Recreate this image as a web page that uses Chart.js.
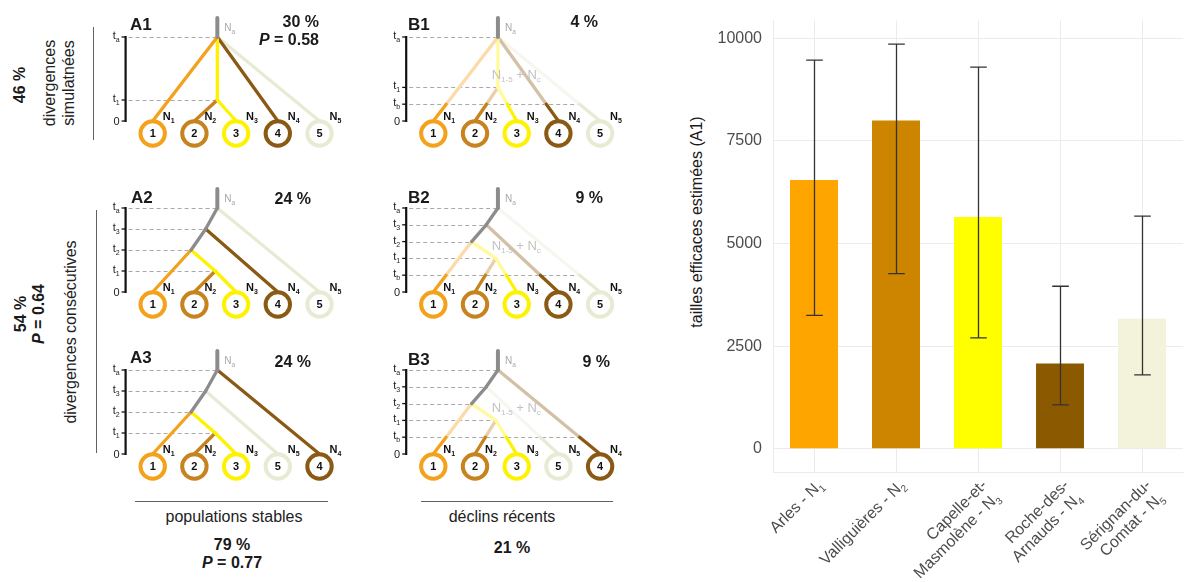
<!DOCTYPE html>
<html lang="fr">
<head>
<meta charset="utf-8">
<title>Scénarios de divergence et tailles efficaces</title>
<script src="https://cdn.jsdelivr.net/npm/chart.js@4.4.1/dist/chart.umd.min.js"></script>
<style>
  html, body { margin: 0; padding: 0; background: #fff; }
  #fig { position: relative; width: 1187px; height: 582px; overflow: hidden;
         font-family: "Liberation Sans", Arial, Helvetica, sans-serif; color: #1a1a1a; }
  #fig canvas { position: absolute; }
  .txt { position: absolute; white-space: nowrap; line-height: 1; text-align: center; }
  .rule { position: absolute; background: #616161; }
</style>
</head>
<body>
<div id="fig"></div>
<script>
// ---------- bar chart data: effective sizes estimated under scenario A1 ----------
const siteLines = [['Arles'], ['Valliguières'], ['Capelle-et-', 'Masmolène'], ['Roche-des-', 'Arnauds'], ['Sérignan-du-', 'Comtat']];
const popIndex = ['1', '2', '3', '4', '5'];
const neEstimate = [6550, 8000, 5650, 2080, 3170];
const neLower = [3250, 4270, 2700, 1070, 1800];
const neUpper = [9470, 9860, 9300, 3960, 5670];
const neTicks = [0, 2500, 5000, 7500, 10000];
const barColors = ['#FFA500', '#CD8500', '#FFFF00', '#8B5A00', '#F3F3DC'];

// ---------- scenario trees ----------
// colour per population; index 0 is the ancestral lineage
const popColors = ['#8C8C8C', '#F4A11C', '#C6831E', '#FFF200', '#8A5A14', '#E8EBD4'];

// event times (relative units) for the two demographic settings
const stableTimes = { a: 4, 3: 3, 2: 2, 1: 1, 0: 0 };
const declineTimes = { a: 4, 3: 3.2, 2: 2.4, 1: 1.6, b: 0.8, 0: 0 };

// internal nodes: [time key, horizontal position in leaf slots]
const simultaneousNodes = { R: ['a', 2.55], n1: ['1', 2.55] };
const simultaneousLeaves = [1, 2, 3, 4, 5];
const simultaneousBranches = [['R', 'L1', 1], ['R', 'n1', 3], ['n1', 'L3', 3], ['n1', 'L2', 2], ['R', 'L4', 4], ['R', 'L5', 5]];

const consecutiveNodes = { R: ['a', 2.55], n3: ['3', 2.27], n2: ['2', 1.92], n1: ['1', 2.5] };
const consecutiveLeaves = [1, 2, 3, 4, 5];
const consecutiveBranches = [['R', 'n3', 0], ['n3', 'n2', 0], ['R', 'L5', 5], ['n3', 'L4', 4], ['n2', 'L1', 1], ['n2', 'n1', 3], ['n1', 'L3', 3], ['n1', 'L2', 2]];

const lateFourLeaves = [1, 2, 3, 5, 4];
const lateFourBranches = [['R', 'n3', 0], ['n3', 'n2', 0], ['R', 'L4', 4], ['n3', 'L5', 5], ['n2', 'L1', 1], ['n2', 'n1', 3], ['n1', 'L3', 3], ['n1', 'L2', 2]];

const panelIds = ['A1', 'B1', 'A2', 'B2', 'A3', 'B3'];
const panelShares = ['30 %', '4 %', '24 %', '9 %', '24 %', '9 %'];
const stableSummary = ['79 %', '0.77'];
const declineSummary = ['21 %'];
const simultaneousSummary = ['46 %', '0.58'];
const consecutiveSummary = ['54 %', '0.64'];

// ---------- layout ----------
const FONT = '"Liberation Sans", Arial, Helvetica, sans-serif';
const SLOT = 41.7;          // px between leaf slots
const TU = 21;              // px per time unit
const colSlot1X = [152.7, 433.3];
const colLeft = [100, 380];
const rowTop = [5, 176, 338];
const ZERO_LOCAL = 116;     // y of time 0 inside a panel canvas
const PW = 255, PH = 150;
const axisSlot = 0.35;
const stubLen = 0.9;
const ringDrop = 12.5;
const poolLabelAt = [2.4, 2.0];

const fig = document.getElementById('fig');

function addCanvas(left, top, w, h) {
  const c = document.createElement('canvas');
  c.width = w; c.height = h;
  c.style.left = left + 'px'; c.style.top = top + 'px';
  c.style.width = w + 'px'; c.style.height = h + 'px';
  fig.appendChild(c);
  return c;
}

function addText(html, x, y, o = {}) {
  const d = document.createElement('div');
  d.className = 'txt';
  d.innerHTML = html;
  d.style.left = x + 'px';
  d.style.top = y + 'px';
  d.style.fontSize = (o.size || 16) + 'px';
  if (o.bold) d.style.fontWeight = 'bold';
  if (o.color) d.style.color = o.color;
  if (o.lh) d.style.lineHeight = o.lh + 'px';
  const tx = o.align === 'left' ? '0' : o.align === 'right' ? '-100%' : '-50%';
  d.style.transform = o.rotate ? 'translate(-50%,-50%) rotate(-90deg)' : `translate(${tx},-50%)`;
  fig.appendChild(d);
}

function addRule(x, y, w, h) {
  const d = document.createElement('div');
  d.className = 'rule';
  Object.assign(d.style, { left: x + 'px', top: y + 'px', width: w + 'px', height: h + 'px' });
  fig.appendChild(d);
}

// text made of normal and subscript runs; y is the main baseline
function drawRuns(ctx, x, y, runs, size, o) {
  const weight = o.bold ? 'bold ' : '';
  const subSize = o.subSize || Math.round(size * 0.62);
  const subDrop = o.subDrop != null ? o.subDrop : size * 0.28;
  const widths = runs.map(([t, s]) => { ctx.font = `${weight}${s ? subSize : size}px ${FONT}`; return ctx.measureText(t).width; });
  const total = widths.reduce((a, b) => a + b, 0);
  let cx = o.align === 'right' ? x - total : o.align === 'center' ? x - total / 2 : x;
  ctx.fillStyle = o.color;
  ctx.textAlign = 'left';
  ctx.textBaseline = 'alphabetic';
  runs.forEach(([t, s], i) => {
    ctx.font = `${weight}${s ? subSize : size}px ${FONT}`;
    ctx.fillText(t, cx, s ? y + subDrop : y);
    cx += widths[i];
  });
}

function lighten(hex, a) {
  const n = parseInt(hex.slice(1), 16);
  const ch = [(n >> 16) & 255, (n >> 8) & 255, n & 255].map(v => Math.round(255 - a * (255 - v)));
  return 'rgb(' + ch.join(',') + ')';
}

function seg(a, b, color, w, order) {
  return { type: 'line', data: [{ x: a.x, y: a.y }, { x: b.x, y: b.y }], borderColor: color,
           borderWidth: w, pointRadius: 0, pointHoverRadius: 0, borderCapStyle: 'round', order };
}

const rowTrees = [
  [simultaneousNodes, simultaneousLeaves, simultaneousBranches],
  [consecutiveNodes, consecutiveLeaves, consecutiveBranches],
  [consecutiveNodes, lateFourLeaves, lateFourBranches]
];

function makePanel(k) {
  const col = k % 2, row = Math.floor(k / 2);
  const [nodes, leaves, branches] = rowTrees[row];
  const decline = col === 1;
  const times = decline ? declineTimes : stableTimes;
  const where = id => id[0] === 'L'
    ? { x: leaves.indexOf(+id.slice(1)) + 1, y: 0 }
    : { x: nodes[id][1], y: times[nodes[id][0]] };
  const levels = [...new Set(Object.values(nodes).map(n => n[0]).concat(decline ? ['b'] : []).concat(['0']))]
    .sort((p, q) => times[q] - times[p]);
  const root = where('R');
  const ringY = -ringDrop / TU;

  const datasets = [];
  datasets.push({
    type: 'scatter', data: leaves.map((p, i) => ({ x: i + 1, y: ringY })),
    pointRadius: 12.2, pointHoverRadius: 12.2, pointBackgroundColor: '#fff',
    pointBorderColor: leaves.map(p => popColors[p]), pointBorderWidth: 4, order: 0
  });
  datasets.push(seg(root, { x: root.x, y: root.y + stubLen }, popColors[0], 4, 1));
  const segments = [];
  branches.forEach(([f, t, c]) => {
    const a = where(f), b = where(t);
    segments.push([a, b]);
    const colr = popColors[c];
    if (decline && c !== 0) {
      const tb = times.b;
      if (b.y >= tb) {
        datasets.push(seg(a, b, lighten(colr, 0.38), 3.3, 2));
      } else {
        const m = { x: a.x + (b.x - a.x) * (a.y - tb) / (a.y - b.y), y: tb };
        datasets.push(seg(a, m, lighten(colr, 0.38), 3.3, 2));
        datasets.push(seg(m, b, colr, 3.3, 1));
      }
    } else {
      datasets.push(seg(a, b, colr, 3.3, 1));
    }
  });

  // guide lines stop at the node of their level, or at the outermost lineage
  const guideEnd = l => {
    const xs = Object.values(nodes).filter(n => n[0] === l).map(n => n[1]);
    if (xs.length) return Math.max(...xs);
    const t = times[l];
    return Math.max(...segments.filter(([a, b]) => a.y > t && b.y < t)
      .map(([a, b]) => a.x + (b.x - a.x) * (a.y - t) / (a.y - b.y)));
  };

  const xMin = 1 - (colSlot1X[col] - colLeft[col]) / SLOT;
  const yMax = ZERO_LOCAL / TU;
  const canvas = addCanvas(colLeft[col], rowTop[row], PW, PH);

  new Chart(canvas, {
    type: 'scatter',
    data: { datasets },
    options: {
      responsive: false, animation: false, devicePixelRatio: 1, events: [],
      layout: { padding: 0, autoPadding: false },
      plugins: { legend: { display: false }, tooltip: { enabled: false } },
      scales: {
        x: { type: 'linear', display: false, bounds: 'data', min: xMin, max: xMin + PW / SLOT },
        y: { type: 'linear', display: false, bounds: 'data', min: yMax - PH / TU, max: yMax }
      }
    },
    plugins: [{
      id: 'treeFrame',
      beforeDatasetsDraw(chart) {
        const { ctx, scales: { x, y } } = chart;
        const ax = x.getPixelForValue(axisSlot);
        ctx.save();
        ctx.strokeStyle = '#a9a9a9';
        ctx.lineWidth = 1.1;
        ctx.setLineDash([4, 3]);
        levels.forEach(l => {
          if (l === '0') return;
          const yy = Math.round(y.getPixelForValue(times[l])) + 0.5;
          ctx.beginPath();
          ctx.moveTo(ax + 3, yy);
          ctx.lineTo(x.getPixelForValue(guideEnd(l)), yy);
          ctx.stroke();
        });
        ctx.setLineDash([]);
        ctx.strokeStyle = '#111';
        ctx.lineWidth = 2.2;
        ctx.beginPath();
        ctx.moveTo(ax, y.getPixelForValue(0) + 1);
        ctx.lineTo(ax, y.getPixelForValue(times.a) - 1);
        ctx.stroke();
        ctx.lineWidth = 1.3;
        levels.forEach(l => {
          const yy = y.getPixelForValue(times[l]);
          ctx.beginPath();
          ctx.moveTo(ax - 4, yy);
          ctx.lineTo(ax, yy);
          ctx.stroke();
          if (l === '0') drawRuns(ctx, ax - 6, yy + 4, [['0', false]], 11, { align: 'right', color: '#222' });
          else drawRuns(ctx, ax - 6, yy + 2, [['t', false], [l, true]], 11, { align: 'right', color: '#222', subSize: 7, subDrop: 3 });
        });
        ctx.restore();
      },
      afterDatasetsDraw(chart) {
        const { ctx, scales: { x, y } } = chart;
        ctx.save();
        leaves.forEach((p, i) => {
          const cx = x.getPixelForValue(i + 1), cy = y.getPixelForValue(ringY);
          ctx.font = `bold 11px ${FONT}`;
          ctx.textAlign = 'center';
          ctx.textBaseline = 'middle';
          ctx.fillStyle = '#111';
          ctx.fillText(String(p), cx, cy + 0.5);
          drawRuns(ctx, cx + 10, y.getPixelForValue(0) - 1.5, [['N', false], [String(p), true]], 11,
                   { bold: true, color: '#111', subSize: 7, subDrop: 3 });
        });
        drawRuns(ctx, x.getPixelForValue(root.x) + 7, y.getPixelForValue(times.a) - 6, [['N', false], ['a', true]], 10,
                 { color: '#a8a8a8', subSize: 6.5, subDrop: 2.5 });
        if (decline) {
          drawRuns(ctx, x.getPixelForValue(poolLabelAt[0]), y.getPixelForValue(poolLabelAt[1]),
                   [['N', false], ['1-5', true], [' + N', false], ['c', true]], 13,
                   { color: '#c2c2c2', subSize: 8, subDrop: 3 });
        }
        ctx.restore();
      }
    }]
  });
}

panelIds.forEach((_, k) => makePanel(k));

// ---------- panel captions ----------
const panelLabelPos = [[130, 24], [408, 24], [131, 197], [408, 197], [130, 357], [408, 359]];
const panelSharePos = [[319, 22], [598, 22], [311, 199], [603, 198], [311, 362], [610, 362]];
panelIds.forEach((id, k) => {
  addText(id, panelLabelPos[k][0], panelLabelPos[k][1], { size: 17, bold: true, align: 'left' });
  addText(panelShares[k], panelSharePos[k][0], panelSharePos[k][1], { size: 16, bold: true, align: 'right' });
});
addText('<i>P</i> = ' + simultaneousSummary[1], 319, 40, { size: 16, bold: true, align: 'right' });

// side groupings
addText(simultaneousSummary[0], 20, 85, { size: 16, bold: true, rotate: true });
addText('divergences<br>simulatnées', 59, 83, { size: 16, lh: 19, rotate: true, color: '#222' });
addRule(93, 27, 1.2, 113);
addText(consecutiveSummary[0] + '<br><i>P</i> = ' + consecutiveSummary[1], 30, 314, { size: 16, bold: true, lh: 18, rotate: true });
addText('divergences consécutives', 71, 332, { size: 16, rotate: true, color: '#222' });
addRule(96, 210, 1.2, 243);

// bottom groupings
addRule(135, 501, 193, 1.2);
addText('populations stables', 234, 517, { size: 16, color: '#222' });
addText(stableSummary[0], 232, 545, { size: 16, bold: true });
addText('<i>P</i> = ' + stableSummary[1], 232, 563, { size: 16, bold: true });
addRule(421, 501, 192, 1.2);
addText('déclins récents', 502, 517, { size: 16, color: '#222' });
addText(declineSummary[0], 512, 548, { size: 16, bold: true });

// ---------- bar chart ----------
const errorBars = {
  id: 'errorBars',
  afterDatasetsDraw(chart) {
    const { ctx, scales: { x, y } } = chart;
    ctx.save();
    ctx.strokeStyle = '#333';
    ctx.lineWidth = 1.3;
    neEstimate.forEach((_, i) => {
      const px = Math.round(x.getPixelForValue(i)) + 0.5;
      const top = y.getPixelForValue(neUpper[i]);
      const bot = y.getPixelForValue(neLower[i]);
      ctx.beginPath();
      ctx.moveTo(px, top); ctx.lineTo(px, bot);
      ctx.moveTo(px - 8.3, top); ctx.lineTo(px + 8.3, top);
      ctx.moveTo(px - 8.3, bot); ctx.lineTo(px + 8.3, bot);
      ctx.stroke();
    });
    ctx.restore();
  }
};

const siteTickLabels = {
  id: 'siteTickLabels',
  afterDraw(chart) {
    const { ctx, scales: { x } } = chart;
    const size = 16, lh = 18;
    siteLines.forEach((lines, i) => {
      ctx.save();
      ctx.translate(x.getPixelForValue(i) + 6, x.top + 10);
      ctx.rotate(-Math.PI / 4);
      lines.forEach((ln, j) => {
        const last = j === lines.length - 1;
        const runs = last ? [[ln + ' - N', false], [popIndex[i], true]] : [[ln, false]];
        drawRuns(ctx, 0, j * lh + 5.5, runs, size, { align: 'right', color: '#4d4d4d', subSize: 10, subDrop: 4 });
      });
      ctx.restore();
    });
  }
};

addText('tailles efficaces estimées (A1)', 697, 222, { size: 16, rotate: true, color: '#1a1a1a' });

const barCanvas = addCanvas(680, 0, 507, 582);
new Chart(barCanvas, {
  type: 'bar',
  data: {
    labels: siteLines.map((l, i) => l.join(' ') + ' - N' + popIndex[i]),
    datasets: [{ data: neEstimate, backgroundColor: barColors, borderWidth: 0,
                 barPercentage: 0.585, categoryPercentage: 1 }]
  },
  options: {
    responsive: false, animation: false, devicePixelRatio: 1, events: [],
    layout: { padding: { top: 15, right: 4, left: 0, bottom: 0 } },
    plugins: { legend: { display: false }, tooltip: { enabled: false } },
    scales: {
      x: {
        offset: true,
        grid: { offset: false, color: '#ebebeb', lineWidth: 1, drawTicks: false },
        border: { display: true, color: '#ebebeb' },
        ticks: { display: false },
        afterFit(s) { s.height = 110; }
      },
      y: {
        min: -566, max: 10433, bounds: 'data',
        afterBuildTicks(s) { s.ticks = neTicks.map(v => ({ value: v })); },
        grid: { color: '#ebebeb', lineWidth: 1, drawTicks: false },
        border: { display: true, color: '#ebebeb' },
        ticks: { color: '#4d4d4d', font: { size: 16, family: FONT }, padding: 11, callback: v => String(v) },
        afterFit(s) { s.width = 93; }
      }
    }
  },
  plugins: [errorBars, siteTickLabels]
});
</script>
</body>
</html>
